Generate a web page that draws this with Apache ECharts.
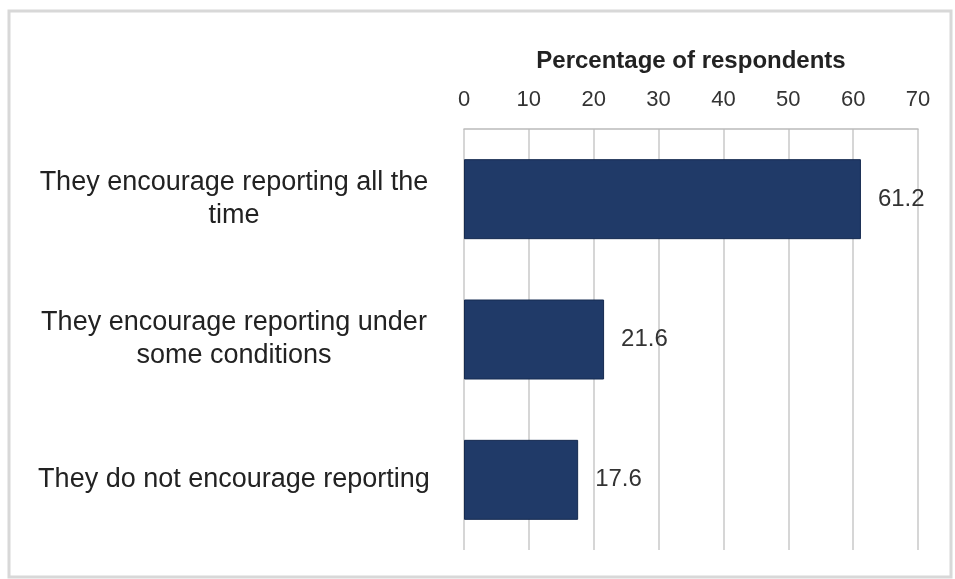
<!DOCTYPE html>
<html><head><meta charset="utf-8">
<script src="https://cdn.jsdelivr.net/npm/echarts@6/dist/echarts.min.js"></script>
<style>html,body{margin:0;padding:0;background:#fff}#c{width:955px;height:579px}</style>
</head><body><div id="c"></div>
<script>
const categories = ["They encourage reporting all the\ntime", "They encourage reporting under\nsome conditions", "They do not encourage reporting"];
const values = [61.2, 21.6, 17.6];
const ticks = [0, 10, 20, 30, 40, 50, 60, 70];
const axisTitle = "Percentage of respondents";

const chart = echarts.init(document.getElementById('c'), null, {renderer: 'canvas'});
chart.setOption({
  backgroundColor: '#fff',
  animation: false,
  graphic: [{type: 'rect', shape: {x: 9, y: 11, width: 942, height: 566}, style: {fill: 'none', stroke: '#d8d8d8', lineWidth: 3}, z: -1}],
  grid: {left: 464, right: 37, top: 129, bottom: 29},
  xAxis: {
    type: 'value', position: 'top', min: ticks[0], max: ticks[ticks.length - 1], interval: 10,
    name: axisTitle, nameLocation: 'middle', nameGap: 56,
    nameTextStyle: {fontFamily: 'Liberation Sans', fontSize: 24, fontWeight: 'bold', color: '#222'},
    axisLine: {show: true, lineStyle: {color: '#bbb', width: 1.5}},
    axisTick: {show: false},
    axisLabel: {margin: 18, fontFamily: 'Liberation Sans', fontSize: 22, color: '#333'},
    splitLine: {show: true, lineStyle: {color: '#c8c8c8', width: 1.5}}
  },
  yAxis: {
    type: 'category', inverse: true, data: categories,
    axisLine: {show: false}, axisTick: {show: false},
    axisLabel: {margin: 230, align: 'center', fontFamily: 'Liberation Sans', fontSize: 27, color: '#222', lineHeight: 33, padding: [6, 0, 0, 0]}
  },
  series: [{
    type: 'bar', data: values, barWidth: 80,
    itemStyle: {color: '#203a68', borderColor: '#152a50', borderWidth: 1},
    label: {show: true, position: 'right', distance: 17, fontFamily: 'Liberation Sans', fontSize: 24, color: '#333'}
  }]
});
</script></body></html>
